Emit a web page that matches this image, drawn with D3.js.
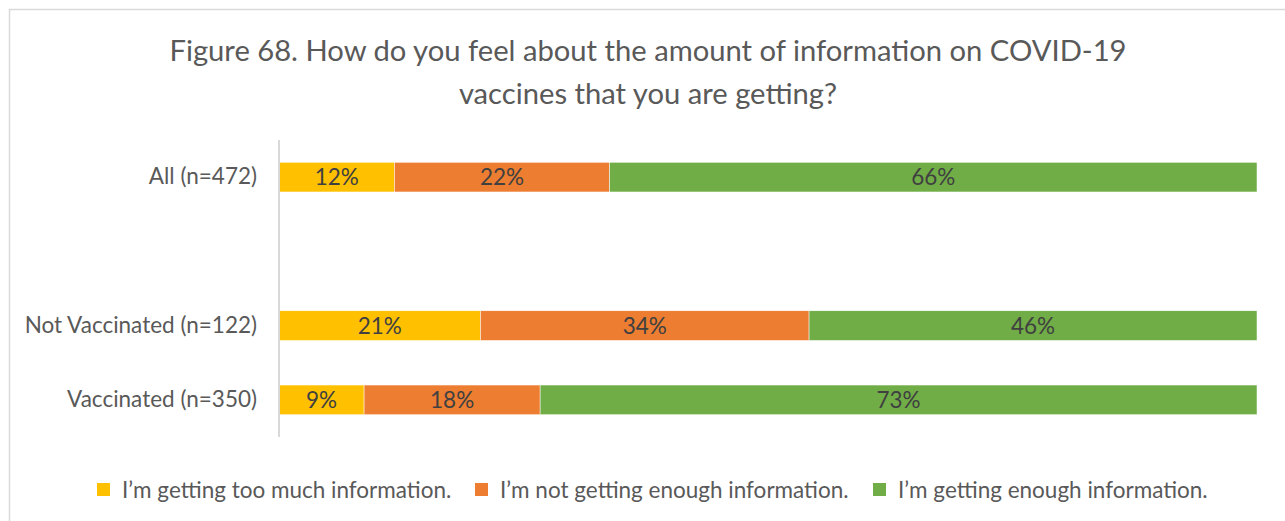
<!DOCTYPE html>
<html><head><meta charset="utf-8">
<script src="https://cdn.jsdelivr.net/npm/d3@7"></script>
<style>html,body{margin:0;padding:0;background:#fff;}svg{display:block;font-family:Lato,"Open Sans",sans-serif;}</style>
</head><body>
<script>
const categories = ["All (n=472)", "", "Not Vaccinated (n=122)", "Vaccinated (n=350)"];
const seriesNames = ["I\u2019m getting too much information.", "I\u2019m not getting enough information.", "I\u2019m getting enough information."];
const tooMuch   = [11.8, null, 20.6, 8.7];
const notEnough = [22.0, null, 33.6, 18.0];
const enough    = [66.2, null, 45.8, 73.3];
const colors = ["#FFC000", "#ED7D31", "#70AD47"];
const titleLines = ["Figure 68. How do you feel about the amount of information on COVID-19", "vaccines that you are getting?"];

const W = 1285, H = 521;
const svg = d3.select("body").append("svg").attr("width", W).attr("height", H);

// chart border
svg.append("path").attr("d", `M9.5,${H}V9.5H${W}`).attr("fill","none").attr("stroke","#d9d9d9").attr("stroke-width",1.5);

// title
svg.append("g").selectAll("text").data(titleLines).join("text")
  .attr("x", 648).attr("y", (d,i)=>61 + i*43)
  .attr("text-anchor","middle").attr("fill","#595959")
  .style("font-size","29.2px").text(d=>d);

const x = d3.scaleLinear().domain([0,100]).range([279, 1257]);
const y = d3.scaleBand().domain(categories.map((c,i)=>i)).range([140, 437]).paddingInner(0.6).paddingOuter(0.3);

const rows = categories.map((c,i)=>({i, vals:[tooMuch[i], notEnough[i], enough[i]]}));
const stackData = rows.filter(r=>r.vals[0]!=null).map(r=>({i:r.i, s0:r.vals[0], s1:r.vals[1], s2:r.vals[2]}));
const stack = d3.stack().keys(["s0","s1","s2"])(stackData);

const g = svg.append("g");
stack.forEach((layer, k)=>{
  const lg = g.append("g");
  lg.selectAll("rect").data(layer).join("rect")
    .attr("x", d=>x(d[0])).attr("width", d=>x(d[1])-x(d[0]))
    .attr("y", d=>y(d.data.i)).attr("height", y.bandwidth())
    .attr("fill", colors[k]).attr("stroke","#fff").attr("stroke-width",0.5);
  lg.selectAll("text").data(layer).join("text")
    .attr("x", d=>(x(d[0])+x(d[1]))/2).attr("y", d=>y(d.data.i)+y.bandwidth()/2)
    .attr("dy","0.35em").attr("text-anchor","middle").attr("fill","#404040")
    .style("font-size","22.5px").text(d=>d3.format(".0f")(d[1]-d[0])+"%");
});

// y axis
const yAxis = d3.axisLeft(y).tickSize(0).tickPadding(22).tickFormat(i=>categories[i]);
const ax = svg.append("g").attr("transform","translate(279,0)").call(yAxis);
ax.select(".domain").attr("stroke","#d9d9d9").attr("stroke-width",2).attr("d","M0,140V437");
ax.selectAll("text").attr("fill","#595959").style("font-size","22.5px").style("font-family","Lato,'Open Sans',sans-serif");

// legend
const legX = [97, 475, 873];
const leg = svg.append("g").selectAll("g").data(seriesNames).join("g")
  .attr("transform",(d,i)=>`translate(${legX[i]},490)`);
leg.append("rect").attr("x",0).attr("y",-7).attr("width",13).attr("height",13).attr("fill",(d,i)=>colors[i]);
leg.append("text").attr("x",25).attr("dy","0.35em").attr("fill","#595959").style("font-size","22.5px").text(d=>d);
</script>
</body></html>
